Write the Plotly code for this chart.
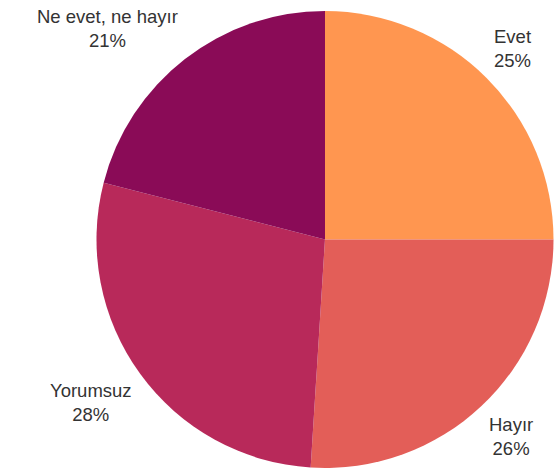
import math
import plotly.graph_objects as go

labels = ["Evet", "Hayır", "Yorumsuz", "Ne evet, ne hayır"]
values = [25, 26, 28, 21]
colors = ["#FF9650", "#E35E58", "#B8295A", "#8A0B57"]

W, H = 555, 473
# pie geometry in pixels
CX, CY, R = 325.0, 239.5, 228.5
LABEL_R = 236.0

fig = go.Figure(go.Pie(
    labels=labels,
    values=values,
    sort=False,
    direction="clockwise",
    rotation=0,
    marker=dict(colors=colors, line=dict(width=0)),
    textinfo="none",
    domain=dict(x=[(CX - R) / W, (CX + R) / W], y=[1 - (CY + R) / H, 1 - (CY - R) / H]),
    showlegend=False,
    hoverinfo="label+percent",
))

total = sum(values)
cum = 0.0
annotations = []
for lab, v in zip(labels, values):
    mid = 2 * math.pi * (cum + v / 2) / total
    cum += v
    s, c = math.sin(mid), math.cos(mid)
    xp = CX + LABEL_R * s
    yp = CY - LABEL_R * c
    annotations.append(dict(
        x=xp / W, y=1 - yp / H, xref="paper", yref="paper",
        text=f"{lab}<br>{round(100 * v / total)}%",
        showarrow=False,
        xanchor="left" if s > 0 else "right",
        yanchor="bottom" if c > 0 else "top",
        align="center",
        font=dict(family="Liberation Sans, Arial, sans-serif", size=18.5, color="#333333"),
    ))

fig.update_layout(
    width=W, height=H,
    margin=dict(l=0, r=0, t=0, b=0),
    paper_bgcolor="white",
    plot_bgcolor="white",
    annotations=annotations,
)
fig.write_html(
    "out.html",
    config={"displayModeBar": False},
    post_script="document.body.style.margin='0';document.body.style.overflow='hidden';",
)
